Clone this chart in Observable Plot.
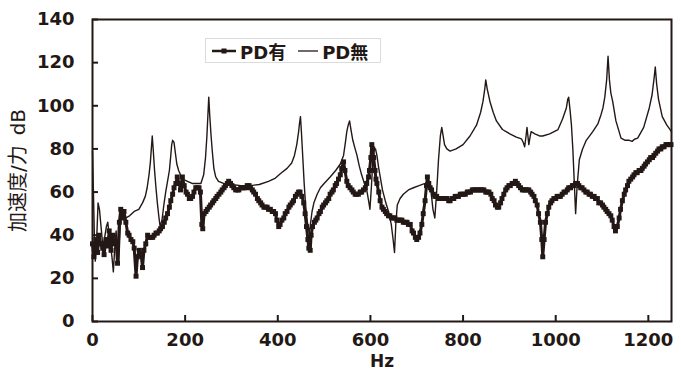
<!DOCTYPE html>
<html><head><meta charset="utf-8">
<script src="https://cdn.jsdelivr.net/npm/d3@7"></script>
<script src="https://cdn.jsdelivr.net/npm/@observablehq/plot@0.6"></script>
<style>
body{margin:0;background:#fff;}
#wrap{position:relative;width:681px;height:372px;}
#legend{position:absolute;left:205px;top:38px;width:174px;height:23px;border:1px solid #dcdcdc;background:#fff;
  display:flex;align-items:center;font-family:"DejaVu Sans","Noto Sans CJK JP",sans-serif;font-size:18px;font-weight:bold;color:#231815;white-space:nowrap;}
#legend svg{display:block}
</style></head>
<body>
<div id="wrap"><div id="legend"></div></div>
<script>
const ink = "#231815";
const xTicks = [0,200,400,600,800,1000,1200];
const yTicks = [0,20,40,60,80,100,120,140];
const seriesNames = ["PD有","PD無"];

// PD有 (with damper) — thick line with square markers
const pdOnHz = [0,3,7,11,14,18,22,25,29,33,36,40,44,47,51,54,58,61,65,68,72,76,79,83,87,90,94,97,101,105,108,111,115,119,122,126,130,133,137,140,144,147,151,155,158,162,166,169,173,176,180,183,187,190,194,198,202,205,209,212,216,219,223,226,230,233,236,238,241,245,248,252,255,259,262,266,269,273,277,280,284,287,291,294,298,301,305,309,313,316,320,324,327,331,334,338,341,345,348,352,356,359,363,366,370,373,377,380,384,388,391,395,398,402,405,409,413,416,420,424,427,431,434,438,442,445,448,452,456,459,462,465,467,470,472,475,479,482,485,489,492,496,499,503,506,510,513,517,520,524,527,531,535,538,542,545,549,552,556,560,563,567,570,574,578,581,585,589,592,596,598,601,603,605,607,610,612,614,618,621,625,628,632,635,639,642,646,649,653,657,660,664,668,671,675,679,682,686,690,693,697,700,704,707,711,714,718,721,723,726,729,732,736,739,743,747,750,754,758,761,765,769,772,776,780,783,787,790,794,798,801,805,809,812,816,820,823,827,831,834,838,841,845,849,852,856,860,863,867,870,874,877,881,884,888,892,895,899,902,906,910,913,917,920,924,928,931,935,938,942,946,949,953,956,960,963,967,970,972,975,978,982,985,989,992,996,1000,1003,1007,1010,1014,1018,1021,1025,1028,1032,1036,1039,1043,1047,1050,1054,1057,1061,1065,1068,1072,1075,1079,1083,1086,1090,1093,1097,1101,1104,1108,1111,1115,1119,1122,1126,1129,1133,1137,1140,1144,1148,1151,1155,1158,1162,1166,1169,1173,1176,1180,1184,1187,1191,1194,1198,1202,1205,1209,1212,1216,1220,1223,1227,1230,1234,1238,1241,1245,1249];
const pdOnDb = [36,30,38,32,40,36,34,31,38,35,42,33,40,36,37,27,46,52,48,51,46,41,40,38,37,34,21,30,33,31,25,33,36,40,39,39,39,40,41,41,42,43,44,46,48,50,53,56,59,62,64,67,64,61,67,63,60,59,57,57,58,60,62,62,62,60,45,43,50,51,52,53,54,55,56,57,58,59,60,61,62,63,64,65,64,63,62,61,61,61,62,62,62,62,63,63,62,61,60,59,57,56,55,54,53,53,53,52,52,51,51,50,47,44,45,47,48,50,51,53,54,55,56,58,59,60,60,58,55,50,44,38,34,33,40,44,46,47,48,50,51,53,54,55,56,57,59,60,61,63,64,66,68,71,74,70,65,63,62,61,60,59,59,59,60,60,61,62,64,67,70,76,82,80,76,70,66,64,60,56,53,52,51,50,49,49,48,48,48,47,47,47,47,46,46,46,45,45,42,41,39,38,39,41,45,50,56,63,67,64,62,61,59,58,58,57,57,57,57,57,57,56,56,57,57,58,58,58,59,59,59,59,60,60,60,61,61,61,61,61,61,61,61,60,60,60,59,57,56,54,53,53,55,57,59,61,62,63,63,64,64,65,64,63,62,61,61,61,61,61,60,59,58,56,54,50,46,38,30,38,46,50,53,55,56,57,57,58,58,58,59,60,60,61,62,62,63,63,64,64,63,62,62,61,60,60,59,59,58,58,57,57,55,55,54,53,52,51,50,49,47,44,42,44,48,52,56,59,61,63,65,66,67,68,69,69,70,70,71,72,73,74,75,76,76,77,78,79,80,80,81,81,82,82,82,82];

// PD無 (without damper) — thin line
const pdOffHz = [0,2,4,6,9,12,15,18,21,24,27,30,33,36,39,42,45,48,51,54,57,60,63,66,69,72,80,90,100,108,114,118,122,125,127,129,131,134,137,140,143,146,150,154,158,162,166,169,171,173,176,179,182,186,190,195,205,215,225,234,240,244,247,249,251,253,256,259,262,266,272,283,300,320,341,360,380,395,406,420,430,436,441,445,447,449,451,454,457,460,464,468,471,474,478,485,492,500,513,525,535,542,546,549,552,555,558,562,567,571,576,581,587,592,596,599,602,605,608,611,614,618,622,626,632,639,645,649,652,655,658,664,671,682,693,705,718,727,731,735,739,743,747,751,754,757,760,765,772,785,800,815,829,838,843,847,849,852,858,865,872,885,901,915,926,930,933,936,938,940,942,945,947,955,965,972,987,1005,1015,1023,1026,1028,1031,1034,1037,1040,1043,1046,1051,1058,1066,1080,1091,1098,1102,1106,1110,1113,1116,1119,1123,1130,1141,1150,1159,1165,1170,1177,1190,1202,1208,1212,1215,1218,1222,1230,1240,1250];
const pdOffDb = [79,60,40,28,38,55,52,45,38,35,40,44,46,40,35,30,23,34,42,30,28,45,52,50,49,48,49,51,52,55,58,62,68,74,80,86,80,70,62,55,49,44,47,54,60,65,70,77,82,84,83,78,73,70,68,66,65,64,64,64,68,76,86,95,104,96,86,78,71,67,65,64,63.5,63,63,63.5,65,66.5,68.6,71,73.5,77,82,88,92,95,88,76,64,54,46,41,46,51,55,59,62,64,67,70,73,77,83,88,91,93,89,84,80,77,72,68,64,61,56,52,62,74,80,80,77,71,66,61,56,51,45,38,32,46,54,57,59,61,62,63,64,65,60,52,48,60,75,86,90,86,82,80,79,80,82,86,91,97,102,108,112,108,102,97,93,89,87,85.5,84.7,83,81,86,90,86,82,86,88,87,86,86,87,89,94,99,103,104,98,91,80,65,50,62,75,80,84,88,91.6,96,99,104,112,123,112,106,102,93,85,84,84,83.5,84.5,85,90,99,105,112,118,110,103,95,91,88];

const onData = pdOnHz.map((hz, i) => ({hz, db: pdOnDb[i]}));
const offData = pdOffHz.map((hz, i) => ({hz, db: pdOffDb[i]}));

const W = 681, H = 372, mL = 92, mR = 10, mT = 19, mB = 51;
const tickLen = 6;

const chart = Plot.plot({
  width: W, height: H,
  marginLeft: mL, marginRight: mR, marginTop: mT, marginBottom: mB,
  style: {fontFamily: '"DejaVu Sans","Noto Sans CJK JP",sans-serif', fontSize: "18px", fontWeight: "bold", color: ink, background: "#fff"},
  x: {domain: [0, 1250]},
  y: {domain: [0, 140]},
  marks: [
    Plot.line(offData, {x: "hz", y: "db", stroke: ink, strokeWidth: 1.4}),
    Plot.line(onData, {x: "hz", y: "db", stroke: ink, strokeWidth: 3}),
    Plot.dot(onData, {x: "hz", y: "db", symbol: "square", r: 2.8, fill: ink, stroke: "none"}),
    // inward tick marks
    Plot.tickX(xTicks, {x: d => d, stroke: ink, strokeWidth: 2, insetTop: (H - mT - mB) - tickLen}),
    Plot.tickY(yTicks, {y: d => d, stroke: ink, strokeWidth: 2, insetRight: (W - mL - mR) - tickLen}),
    Plot.frame({stroke: ink, strokeWidth: 2}),
    Plot.axisX({ticks: xTicks, tickSize: 0, tickPadding: 12, tickFormat: d3.format("d"), label: "Hz", labelAnchor: "center", labelOffset: 45, labelArrow: "none"}),
    Plot.axisY({ticks: yTicks, tickSize: 0, tickPadding: 18, tickFormat: d3.format("d"), label: "加速度/力\u2002dB", labelAnchor: "center", labelOffset: 82, labelArrow: "none"})
  ]
});
// axis titles: y title slightly larger and lighter, x title a touch smaller, like the reference
d3.select(chart).selectAll('g[aria-label="y-axis label"] text').style("font-size", "20px").style("font-weight", "normal");
d3.select(chart).selectAll('g[aria-label="x-axis label"] text').style("font-size", "17px");
document.getElementById("wrap").prepend(chart);

// legend
const lg = document.getElementById("legend");
lg.innerHTML =
  `<svg width="30" height="12" style="margin-left:4px"><line x1="2" y1="6" x2="26" y2="6" stroke="${ink}" stroke-width="2.5"/><rect x="11.5" y="3.5" width="5" height="5" fill="${ink}"/></svg>` +
  `<span>${seriesNames[0]}</span>` +
  `<svg width="28" height="12" style="margin-left:8px"><line x1="4" y1="6" x2="24" y2="6" stroke="${ink}" stroke-width="1.3"/></svg>` +
  `<span>${seriesNames[1]}</span>`;
</script>
</body></html>
